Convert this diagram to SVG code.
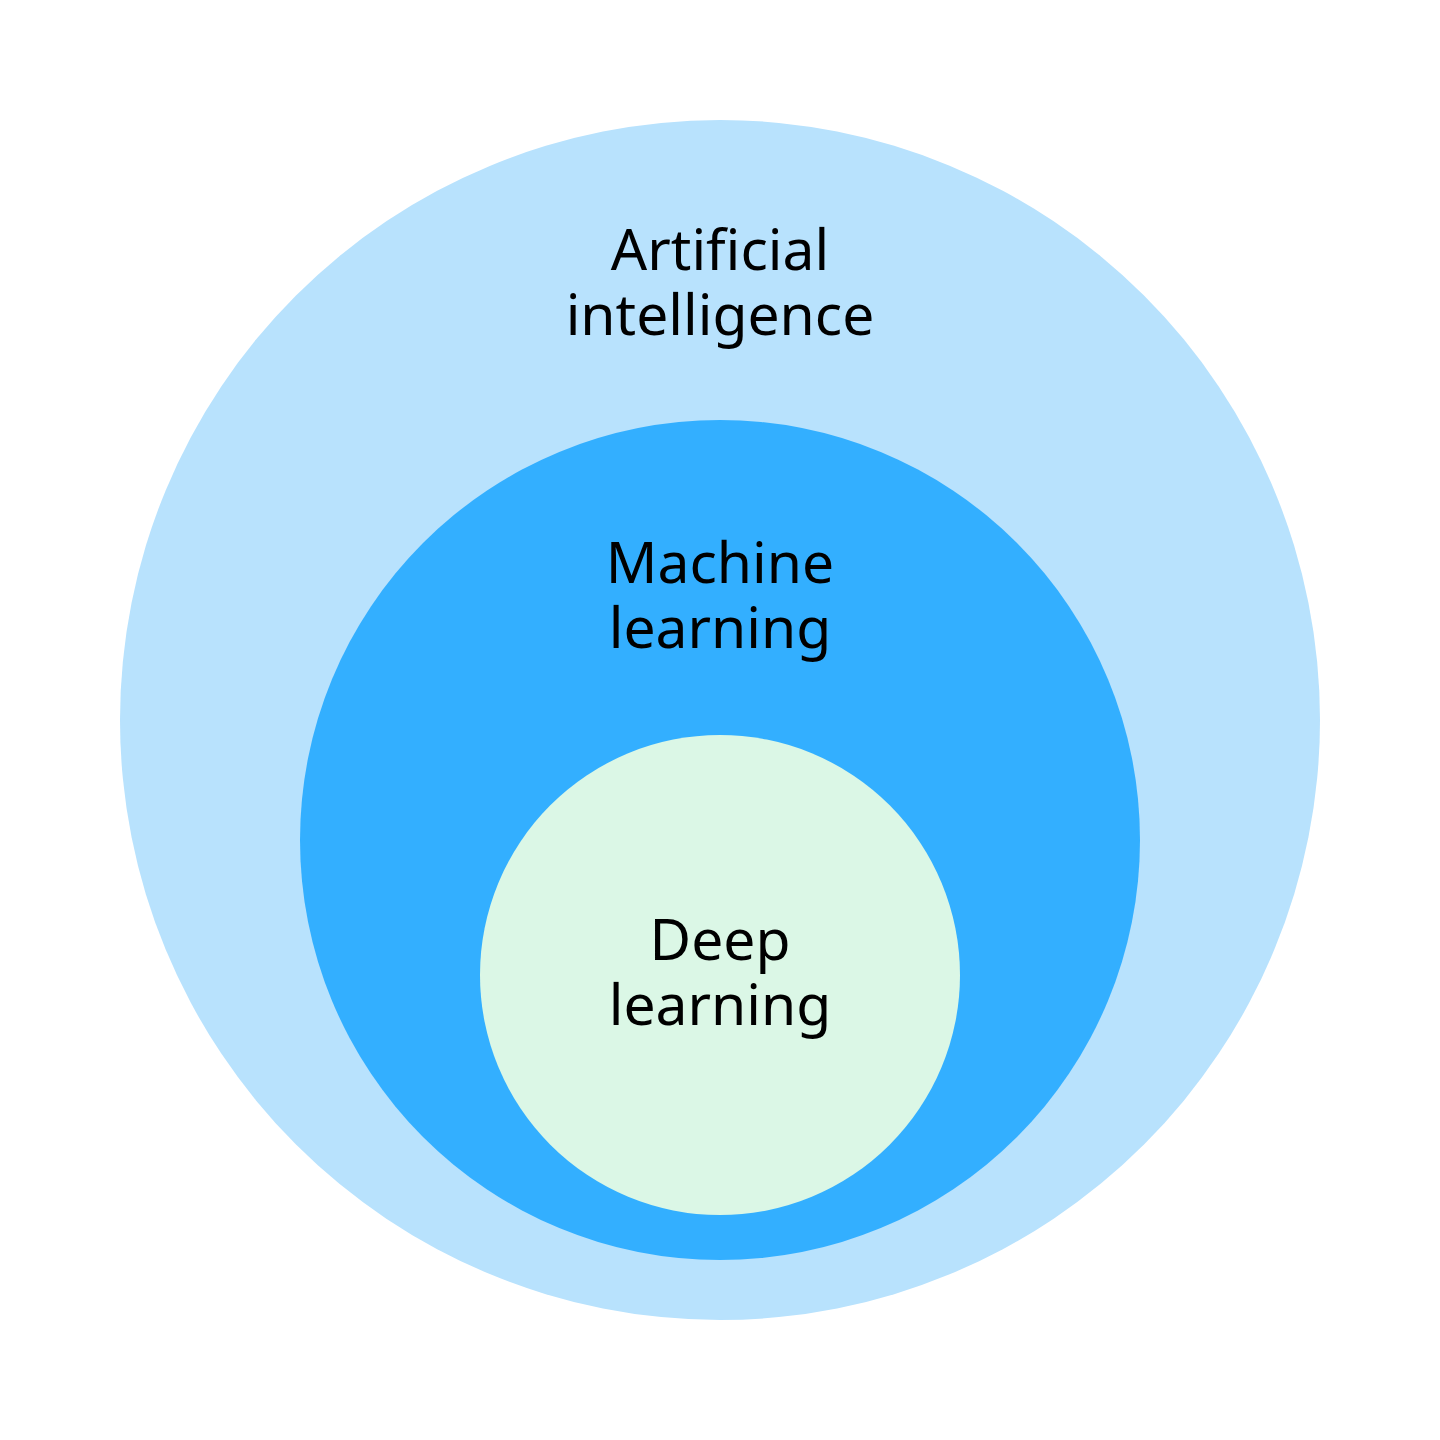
<svg xmlns="http://www.w3.org/2000/svg" width="1440" height="1440" viewBox="0 0 1440 1440">
<style>
.lbl{font-family:"Noto Sans","Open Sans",sans-serif;font-size:57px;fill:#000;text-anchor:middle}
</style>
<rect width="1440" height="1440" fill="#ffffff"/>
<g id="ai">
<circle cx="720" cy="720" r="600" fill="#B8E2FD"/>
<text class="lbl" x="720" y="270">Artificial</text>
<text class="lbl" x="720" y="335">intelligence</text>
</g>
<g id="ml">
<circle cx="720" cy="840" r="420" fill="#33AFFF"/>
<text class="lbl" x="720" y="583">Machine</text>
<text class="lbl" x="720" y="648">learning</text>
</g>
<g id="dl">
<circle cx="720" cy="975" r="240" fill="#DBF7E6"/>
<text class="lbl" x="720" y="960">Deep</text>
<text class="lbl" x="720" y="1025">learning</text>
</g>
<g id="connectors"/>
</svg>
